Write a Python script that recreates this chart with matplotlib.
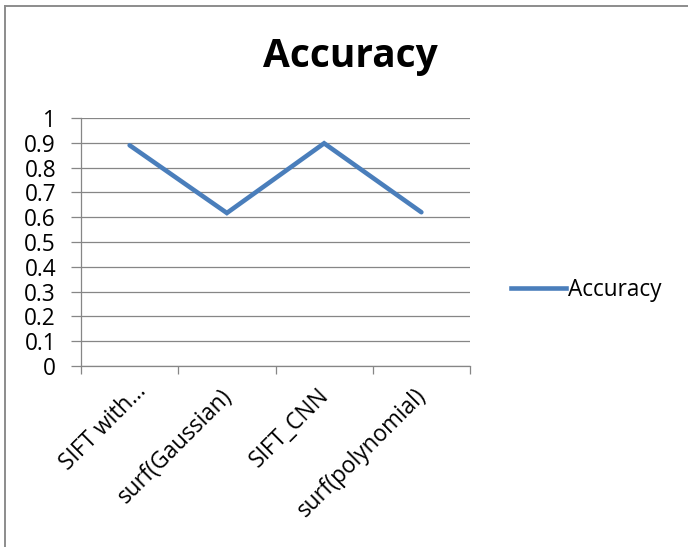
import numpy as np
import matplotlib.pyplot as plt
import matplotlib.transforms as mtransforms
from matplotlib.lines import Line2D

# chart data
categories = ["SIFT with\u2026", "surf(Gaussian)", "SIFT_CNN", "surf(polynomial)"]
accuracy = [0.89, 0.617, 0.898, 0.62]
y_ticks = [0, 0.1, 0.2, 0.3, 0.4, 0.5, 0.6, 0.7, 0.8, 0.9, 1]
y_tick_labels = ["0", "0.1", "0.2", "0.3", "0.4", "0.5", "0.6", "0.7", "0.8", "0.9", "1"]

plt.rcParams['font.family'] = ['Open Sans', 'DejaVu Sans']

line_color = '#4a7ebb'
grid_color = '#868686'
fs = 16.3

fig = plt.figure(figsize=(6.88, 5.47), dpi=100)
W, H = 688, 547
ax = fig.add_axes([81 / W, (H - 366) / H, (470 - 81) / W, (366 - 118) / H])

x = np.arange(len(categories))
ax.plot(x, accuracy, color=line_color, lw=3.3, solid_capstyle='round',
        solid_joinstyle='miter', zorder=3, label='Accuracy')

# axes limits and ticks
ax.set_xlim(-0.5, len(categories) - 0.5)
ax.set_ylim(0, 1)
ax.set_yticks(y_ticks)
ax.set_yticklabels(y_tick_labels, fontsize=fs)
ax.yaxis.grid(True, color=grid_color, lw=0.9)
ax.set_axisbelow(True)

# category boundaries get the tick marks, labels sit in the middle
ax.set_xticks(np.arange(-0.5, len(categories)), minor=True)
ax.set_xticks(x)
ax.set_xticklabels(categories, fontsize=fs, rotation=45, ha='right',
                   rotation_mode='anchor')
ax.tick_params(axis='x', which='major', length=0, pad=13)
ax.tick_params(axis='x', which='minor', length=6, width=0.9, color=grid_color)
ax.tick_params(axis='y', length=7, width=0.9, color=grid_color, pad=11)

# nudge the slanted labels; the truncated first one sits a bit further right
for i, lbl in enumerate(ax.get_xticklabels()):
    dx, dy = (-7, 0) if i else (5, 5)
    shift = mtransforms.ScaledTranslation(dx / 100, dy / 100, fig.dpi_scale_trans)
    lbl.set_transform(lbl.get_transform() + shift)

for side in ['top', 'right']:
    ax.spines[side].set_visible(False)
for side in ['left', 'bottom']:
    ax.spines[side].set_color(grid_color)
    ax.spines[side].set_linewidth(0.9)

fig.text(350 / W, 1 - 57 / H, "Accuracy", fontsize=28, fontweight='bold',
         ha='center', va='center')

# legend on the right
leg = fig.legend(handles=[Line2D([0], [0], color=line_color, lw=3.3)],
                 labels=['Accuracy'], loc='center left',
                 bbox_to_anchor=(491 / W, 1 - 290 / H), frameon=False,
                 fontsize=fs, handlelength=2.4, handletextpad=0.1)

# outer frame (only top and left edges visible in the crop)
fig.add_artist(Line2D([4.5 / W, 1], [1 - 5.5 / H, 1 - 5.5 / H], color='#8c8c8c',
                      lw=1.4, transform=fig.transFigure))
fig.add_artist(Line2D([4.5 / W, 4.5 / W], [0, 1 - 5.5 / H], color='#8c8c8c',
                      lw=1.4, transform=fig.transFigure))

fig.savefig('out.png', dpi=100)
